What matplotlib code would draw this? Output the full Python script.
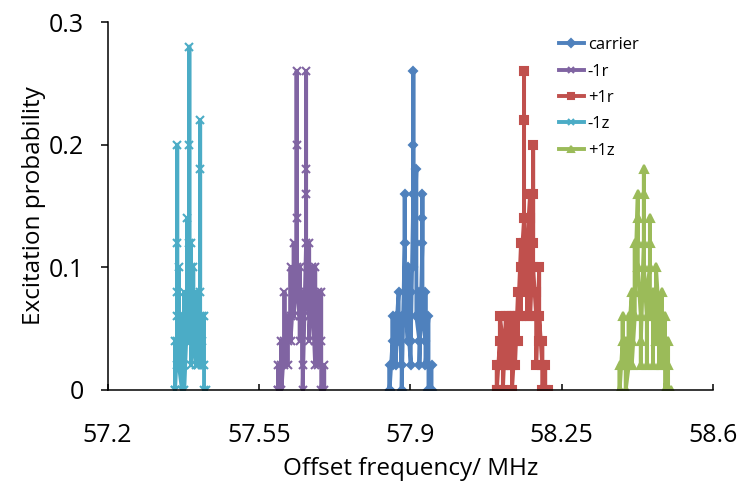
import numpy as np
import matplotlib
matplotlib.use("Agg")
import matplotlib.pyplot as plt

plt.rcParams['font.family'] = ['Open Sans', 'DejaVu Sans']

# each frequency point has a few repeated measurements (visited in order)
carrier_f = [57.852, 57.859, 57.866, 57.873, 57.880, 57.887, 57.894, 57.901,
             57.907, 57.914, 57.921, 57.928, 57.935, 57.942, 57.949]
carrier_p = [[0, 0.02, 0], [0.04, 0.06, 0.02], [0.06, 0.02, 0.04], [0.08, 0.04, 0.06],
             [0.02, 0.06, 0], [0.12, 0.16, 0.08], [0.04, 0.1, 0.06], [0.02, 0.08, 0.04],
             [0.16, 0.26, 0.2, 0.1], [0.18, 0.12, 0.06], [0.04, 0.08, 0.02],
             [0.12, 0.16, 0.14, 0.06], [0.04, 0.08, 0.02], [0.06, 0.02, 0], [0.02, 0]]

m1r_f = [57.595, 57.602, 57.609, 57.616, 57.623, 57.630, 57.637, 57.644,
         57.651, 57.659, 57.666, 57.673, 57.680, 57.687, 57.694, 57.701]
m1r_p = [[0, 0.02, 0], [0.02, 0.04, 0], [0.04, 0.08, 0.02], [0.06, 0.02, 0.04],
         [0.06, 0.1, 0.04], [0.08, 0.06, 0.12], [0.1, 0.26, 0.2, 0.14, 0.08],
         [0.06, 0.1, 0.04], [0.08, 0.02, 0.06, 0], [0.12, 0.26, 0.18, 0.16, 0.08],
         [0.06, 0.12, 0.04], [0.1, 0.06, 0.08], [0.02, 0.1, 0.04], [0.08, 0.06, 0.02],
         [0.08, 0.04, 0], [0.02, 0]]

p1r_f = [58.100, 58.107, 58.114, 58.121, 58.128, 58.135, 58.142, 58.149, 58.156,
         58.163, 58.170, 58.177, 58.184, 58.191, 58.198, 58.205, 58.212, 58.219]
p1r_p = [[0, 0.02, 0], [0.04, 0.02, 0.06], [0.04, 0.02, 0], [0.06, 0.02, 0.04],
         [0.02, 0.06, 0.04], [0.06, 0.02, 0], [0.04, 0.06, 0.02], [0.08, 0.04, 0.06],
         [0.12, 0.06, 0.1], [0.14, 0.26, 0.22, 0.12, 0.08], [0.1, 0.06, 0.12],
         [0.16, 0.08, 0.14, 0.06], [0.12, 0.2, 0.16, 0.1], [0.06, 0.08, 0.02],
         [0.1, 0.04, 0.06], [0.02, 0.04, 0], [0.02, 0], [0]]

m1z_f = [57.356, 57.361, 57.365, 57.372, 57.377, 57.384, 57.389, 57.393,
         57.398, 57.405, 57.409, 57.414, 57.419, 57.423, 57.428]
m1z_p = [[0, 0.04, 0], [0.04, 0.12, 0.2, 0.08, 0.06, 0.02], [0.06, 0.04, 0.1, 0.02],
         [0, 0.06, 0.02], [0.04, 0.08, 0.02, 0], [0.06, 0.14, 0.04],
         [0.12, 0.28, 0.2, 0.06], [0.04, 0.12, 0.1, 0.02], [0.06, 0.1, 0.04],
         [0.02, 0.08, 0.06, 0.04], [0.06, 0.02], [0.08, 0.22, 0.18, 0.06],
         [0.02, 0.06, 0.04], [0.06, 0.02, 0], [0]]

p1z_f = [58.384, 58.391, 58.398, 58.405, 58.412, 58.419, 58.426, 58.433, 58.440,
         58.447, 58.454, 58.461, 58.468, 58.475, 58.482, 58.489, 58.496, 58.503]
p1z_p = [[0, 0.02, 0], [0.04, 0.06, 0.02], [0.04, 0.02, 0], [0.02, 0.06, 0.04],
         [0.08, 0.04, 0.02], [0.06, 0.12, 0.08], [0.16, 0.12, 0.14, 0.1],
         [0.06, 0.02, 0.04], [0.12, 0.18, 0.16, 0.1], [0.06, 0.02, 0.08],
         [0.1, 0.14, 0.12, 0.06], [0.08, 0.02, 0.06], [0.04, 0.08, 0.1],
         [0.06, 0.02, 0.04], [0.08, 0.06, 0.02], [0.04, 0.06, 0], [0.02, 0.04, 0], [0]]

labels = ['carrier', '-1r', '+1r', '-1z', '+1z']
xticks = [57.2, 57.55, 57.9, 58.25, 58.6]
yticks = [0, 0.1, 0.2, 0.3]


def flat(freqs, probs):
    x = np.concatenate([[f] * len(p) for f, p in zip(freqs, probs)])
    y = np.concatenate(probs)
    return x, y


series = [
    (carrier_f, carrier_p, '#4F81BD', 'D', 4.5),
    (m1r_f, m1r_p, '#8064A2', 'x', 5.5),
    (p1r_f, p1r_p, '#C0504D', 's', 5.5),
    (m1z_f, m1z_p, '#4BACC6', 'x', 5.5),
    (p1z_f, p1z_p, '#9BBB59', '^', 5.5),
]

fig = plt.figure(figsize=(7.42, 4.82), dpi=100)
ax = fig.add_axes([0.145, 0.191, 0.816, 0.763])

for (f, p, c, m, ms), lab in zip(series, labels):
    x, y = flat(f, p)
    ax.plot(x, y, color=c, lw=2.8, marker=m, ms=ms, mew=1.5, label=lab)

ax.set_xlim(57.2, 58.6)
ax.set_ylim(0, 0.3)
ax.set_xticks(xticks)
ax.set_xticklabels(['57.2', '57.55', '57.9', '58.25', '58.6'])
ax.set_yticks(yticks)
ax.set_yticklabels(['0', '0.1', '0.2', '0.3'])
ax.tick_params(axis='x', length=4, width=1.1, direction='in', pad=24, labelsize=18)
ax.tick_params(axis='y', length=5, width=1.1, pad=12, labelsize=18, direction='out')
for s in ['top', 'right']:
    ax.spines[s].set_visible(False)
for s in ['left', 'bottom']:
    ax.spines[s].set_linewidth(1.1)
ax.set_xlabel('Offset frequency/ MHz', fontsize=17.5, labelpad=6)
ax.set_ylabel('Excitation probability', fontsize=17.5, labelpad=2)

ax.legend(loc='upper left', bbox_to_anchor=(0.72, 1.0), frameon=False, fontsize=12,
          handlelength=1.5, handletextpad=0.25, labelspacing=0.62, markerscale=0.9)

fig.savefig('out.png', dpi=100)
